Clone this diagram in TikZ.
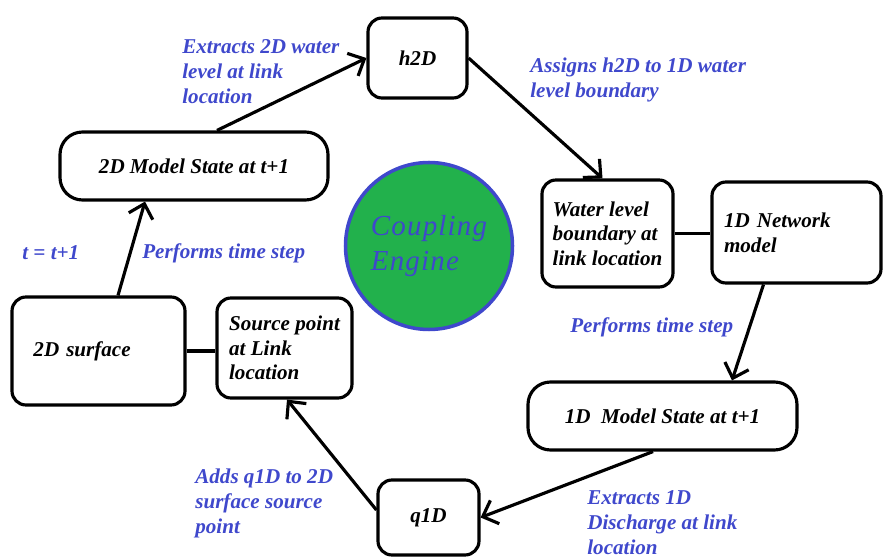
\documentclass[tikz,border=0pt]{standalone}
\usepackage{fontspec}
\setmainfont{Liberation Serif}
\newfontfamily\enginefont[LetterSpace=4]{Liberation Serif}
\usepackage{xcolor}
\usepackage{tikz}
\usetikzlibrary{arrows.meta}
\definecolor{paintblue}{RGB}{63,72,204}
\definecolor{paintgreen}{RGB}{34,177,76}

\begin{document}
\begin{tikzpicture}[modelbox/.style={font=\fontsize{12}{14}\selectfont\bfseries\itshape, draw, line width=1.8pt, rounded corners=0.28cm, inner sep=3, align=left},
statebox/.style={modelbox, rounded corners=0.45cm, minimum width=5.36cm, minimum height=1.36cm},
note/.style={font=\fontsize{12}{14.2}\selectfont\bfseries\itshape, text=paintblue, anchor=west, inner sep=0, align=left},
flow/.style={line width=1.8pt, -{Straight Barb[length=0.26cm,width=0.5cm]}},
link/.style={line width=1.8pt}]
\useasboundingbox (0,0) rectangle (17.66,11.14);
%boxes
\node[modelbox, minimum width=1.98cm, minimum height=1.6cm] (h2d) at (8.35,9.98) {h2D};
\node[statebox] (state2d) at (3.88,7.82) {2D Model State at t+1};
\node[modelbox, minimum width=2.62cm, minimum height=2.14cm] (wlevel) at (12.15,6.47) {Water level\\boundary at\\link location};
\node[modelbox, minimum width=3.38cm, minimum height=2.02cm, text width=2.9cm] (net1d) at (15.93,6.49) {1D Network\\model};
\node[modelbox, minimum width=3.46cm, minimum height=2.16cm, text width=2.6cm] (surf2d) at (1.97,4.12) {2D surface};
\node[modelbox, minimum width=2.7cm, minimum height=2.0cm] (srcpt) at (5.69,4.18) {Source point\\at Link\\location};
\node[statebox, minimum width=5.38cm] (state1d) at (13.25,2.82) {1D~~Model State at t+1};
\node[modelbox, minimum width=2.02cm, minimum height=1.5cm] (q1d) at (8.57,0.79) {q1D};
\node[circle, draw=paintblue, line width=2pt, fill=paintgreen, minimum size=3.34cm, text=paintblue, align=left, font=\fontsize{16.5}{20}\enginefont\itshape\selectfont] (engine) at (8.58,6.22) {Coupling\\Engine};
%labels
\node[note] (extract2d) at (3.64,9.70) {Extracts 2D water\\level at link\\location};
\node[note] (assign) at (10.6,9.55) {Assigns h2D to 1D water\\level boundary};
\node[note] (tstep) at (0.44,6.08) {t = t+1};
\node[note] (perf2d) at (2.84,6.08) {Performs time step};
\node[note] (perf1d) at (11.4,4.6) {Performs time step};
\node[note] (addq) at (3.9,1.08) {Adds q1D to 2D\\surface source\\point};
\node[note] (extract1d) at (11.74,0.68) {Extracts 1D\\Discharge at link\\location};
%connectors
\draw [flow] ([xshift=0.46cm]state2d.north) -- (h2d.west);
\draw [flow] (h2d.east) -- ([xshift=-0.1cm]wlevel.north);
\draw [link] (wlevel.east) -- (wlevel.east -| net1d.west);
\draw [flow] ([xshift=-0.66cm]net1d.south) -- ([xshift=1.39cm]state1d.north);
\draw [flow] ([xshift=-0.19cm]state1d.south) -- (q1d.east);
\draw [flow] ([yshift=0.15cm]q1d.west) -- ([xshift=0.05cm]srcpt.south);
\draw [link] (surf2d.east) -- (surf2d.east -| srcpt.west);
\draw [flow] ([xshift=0.39cm]surf2d.north) -- ([xshift=-0.98cm]state2d.south);
\end{tikzpicture}
\end{document}
